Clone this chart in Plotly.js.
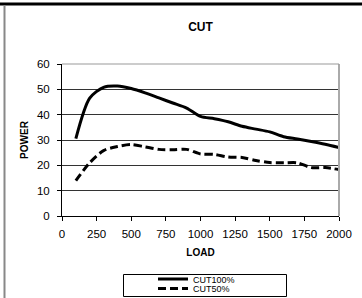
<!DOCTYPE html>
<html><head><meta charset="utf-8">
<script src="https://cdn.plot.ly/plotly-3.0.1.min.js"></script>
<style>html,body{margin:0;padding:0;background:#fff}#c{width:362px;height:298px}</style>
</head><body><div id="c"></div>
<script>
var loads = [100,200,300,400,500,600,700,800,900,1000,1100,1200,1300,1400,1500,1600,1700,1800,1900,2000];
var cut100 = [30.5,46.5,50.8,51.3,50.3,48.6,46.6,44.6,42.6,39.3,38.4,37.2,35.4,34.3,33.2,31.3,30.4,29.4,28.3,27];
var cut50 = [14,21,25.8,27.4,28.2,27.3,26.3,26.2,26.3,24.5,24.3,23.3,23.1,21.9,21.1,21,21,19.1,19.1,18.3];
var xTicks = [0,250,500,750,1000,1250,1500,1750,2000];
var yTicks = [0,10,20,30,40,50,60];

var W=362,H=298,L=62,R=23,T=64,B=82;
var pw=W-L-R, ph=H-T-B;
function px(x){return (x-L)/pw;}
function py(y){return (H-B-y)/ph;}
var font='"Liberation Sans", Arial, sans-serif';

var traces=[
 {x:loads,y:cut100,name:'CUT100%',type:'scatter',mode:'lines',line:{color:'#000',width:3,shape:'spline',smoothing:0.8},legend:'legend'},
 {x:loads,y:cut50,name:'CUT50%',type:'scatter',mode:'lines',line:{color:'#000',width:3,shape:'spline',smoothing:0.8,dash:'8px,4px'},legend:'legend2'}
];
var legBase={font:{family:font,size:9,color:'#000'},bgcolor:'rgba(0,0,0,0)',borderwidth:0,xanchor:'left',yanchor:'middle',itemwidth:30};
var layout={
 width:W,height:H,margin:{l:L,r:R,t:T,b:B,autoexpand:false},
 paper_bgcolor:'#fff',plot_bgcolor:'#fff',
 font:{family:font,size:11,color:'#000'},
 title:{text:'<b>CUT</b>',font:{family:font,size:12,color:'#000'},x:px(200.5),xanchor:'center',xref:'paper',y:1-27/H,yanchor:'middle',yref:'container'},
 xaxis:{range:[0,2000],tickvals:xTicks,ticktext:xTicks.map(String),ticks:'outside',ticklen:4,tickcolor:'#000',showline:true,linecolor:'#000',linewidth:1,showgrid:false,zeroline:false,automargin:false,ticklabelstandoff:3,
   tickfont:{family:font,size:11.5,color:'#000'},title:{text:'<b>LOAD</b>',font:{family:font,size:10,color:'#000'},standoff:10}},
 yaxis:{range:[0,60],tickvals:yTicks,ticktext:yTicks.map(String),ticks:'outside',ticklen:4,tickcolor:'#000',showline:true,linecolor:'#000',linewidth:1,showgrid:true,gridcolor:'#333',gridwidth:1,zeroline:false,automargin:false,ticklabelstandoff:5,
   tickfont:{family:font,size:11.5,color:'#000'},title:{text:'<b>POWER</b>',font:{family:font,size:10,color:'#000'},standoff:6}},
 showlegend:true,
 legend:Object.assign({},legBase,{x:px(153),y:py(279)}),
 legend2:Object.assign({},legBase,{x:px(153),y:py(288.5)}),
 shapes:[
  {type:'line',xref:'paper',yref:'paper',x0:px(0),x1:px(362),y0:py(4),y1:py(4),line:{color:'#000',width:3}},
  {type:'line',xref:'paper',yref:'paper',x0:px(4.5),x1:px(4.5),y0:py(5),y1:py(298),line:{color:'#888',width:2}},
  {type:'line',xref:'paper',yref:'paper',x0:1,x1:1,y0:0,y1:1,line:{color:'#aaa',width:2}},
  {type:'line',xref:'paper',yref:'paper',x0:0,x1:1,y0:1,y1:1,line:{color:'#999',width:1}},
  {type:'rect',xref:'paper',yref:'paper',x0:px(123.5),x1:px(286.5),y0:py(274.5),y1:py(296.5),line:{color:'#000',width:1},fillcolor:'rgba(0,0,0,0)'}
 ]
};
Plotly.newPlot('c',traces,layout,{staticPlot:true,displayModeBar:false});
</script></body></html>
